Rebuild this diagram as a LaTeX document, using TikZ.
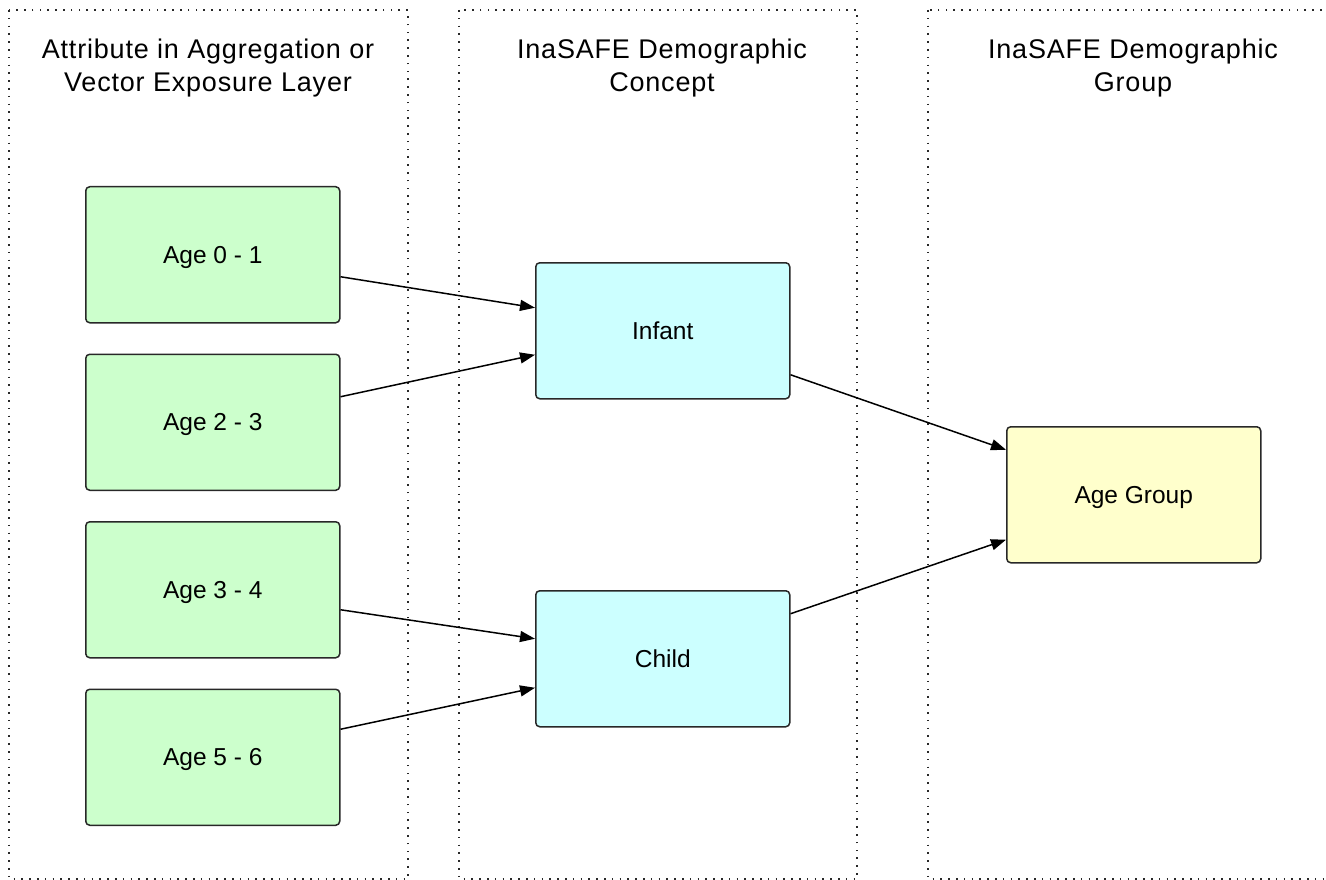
\documentclass[tikz,border=0pt]{standalone}
\usepackage{fontspec}
\setmainfont{Liberation Sans}
\newfontfamily\titlefont[LetterSpace=3]{Liberation Sans}
\usetikzlibrary{arrows.meta,calc}
\definecolor{attrfill}{RGB}{204,255,204}
\definecolor{conceptfill}{RGB}{204,255,255}
\definecolor{groupfill}{RGB}{255,255,204}
\definecolor{edge}{RGB}{40,40,40}
\begin{document}
\begin{tikzpicture}[x=1pt,y=-1pt,
  lane/.style={draw=edge,line width=1.6pt,dash pattern=on 1.6pt off 6.2pt},
  title/.style={align=center,font=\titlefont\fontsize{27}{33}\selectfont,inner sep=0pt},
  box/.style={draw=edge,line width=1.5pt,rounded corners=4pt,minimum width=254pt,minimum height=136pt,inner sep=0pt,text height=17.4pt,text depth=0pt,font=\fontsize{24.5}{30}\selectfont,anchor=north west},
  attr/.style={box,fill=attrfill},
  concept/.style={box,fill=conceptfill},
  group/.style={box,fill=groupfill},
  link/.style={line width=1.5pt,-{Triangle[length=15pt,width=11pt]}}]
\useasboundingbox (0,0) rectangle (1326,880);
\draw[lane] (9,10) rectangle (408,879);
\draw[lane] (459,10) rectangle (857,879);
\draw[lane] (928,10) rectangle (1340,879);
\node[title] (t1) at (208,68.5) {Attribute in Aggregation or\\Vector Exposure Layer};
\node[title] (t2) at (662,68.5) {InaSAFE Demographic\\Concept};
\node[title] (t3) at (1133,68.5) {InaSAFE Demographic\\Group};
\node[attr] (a1) at (85,186) {Age 0 - 1};
\node[attr] (a2) at (85,353.5) {Age 2 - 3};
\node[attr] (a3) at (85,521) {Age 3 - 4};
\node[attr] (a4) at (85,688.5) {Age 5 - 6};
\node[concept] (c1) at (535,262) {Infant};
\node[concept] (c2) at (535,590) {Child};
\node[group] (g) at (1006,426) {Age Group};
\draw[link] ([yshift=-22pt]a1.east) -- ([yshift=23pt]c1.west);
\draw[link] ([yshift=25.5pt]a2.east) -- ([yshift=-24pt]c1.west);
\draw[link] ([yshift=-20pt]a3.east) -- ([yshift=20pt]c2.west);
\draw[link] ([yshift=28pt]a4.east) -- ([yshift=-29pt]c2.west);
\draw[link] ([yshift=-44pt]c1.east) -- ([yshift=45pt]g.west);
\draw[link] ([yshift=45pt]c2.east) -- ([yshift=-45pt]g.west);
\end{tikzpicture}
\end{document}
